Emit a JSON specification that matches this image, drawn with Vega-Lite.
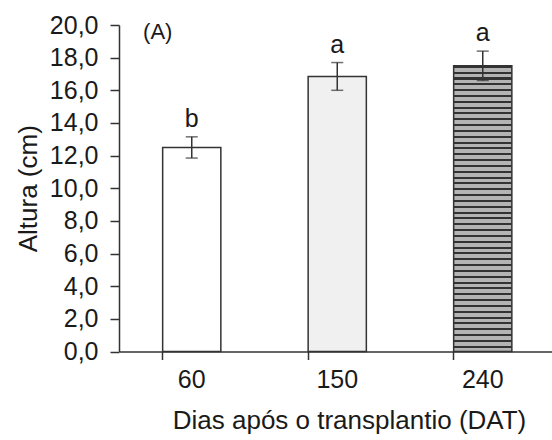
{
  "$schema": "https://vega.github.io/schema/vega-lite/v6.json",
  "autosize": {"type": "none"},
  "padding": {"left": 119, "top": 25, "right": 0, "bottom": 88.5},
  "width": 433,
  "height": 326.5,
  "background": "white",
  "config": {
    "view": {"stroke": null},
    "font": "Liberation Sans",
    "axis": {"domainColor": "#333333", "tickColor": "#333333", "domainWidth": 1.5, "tickWidth": 1.5, "labelColor": "#1a1a1a", "titleColor": "#1a1a1a", "labelFont": "Liberation Sans", "titleFont": "Liberation Sans", "titleFontWeight": "normal", "grid": false, "labelOverlap": false},
    "axisY": {"values": [0, 2, 4, 6, 8, 10, 12, 14, 16, 18, 20], "tickCount": 20, "labelExpr": "replace(format(datum.value, '.1f'), '.', ',')", "labelFontSize": 25, "titleFontSize": 26, "tickSize": 9, "labelPadding": 12, "titlePadding": 8, "labelOverlap": false}
  },
  "data": {
    "values": [
      {"dias": "60", "altura": 12.5, "erro": 0.65, "letra": "b"},
      {"dias": "150", "altura": 16.85, "erro": 0.85, "letra": "a"},
      {"dias": "240", "altura": 17.5, "erro": 0.9, "letra": "a"}
    ]
  },
  "transform": [
    {"calculate": "datum.altura - datum.erro", "as": "baixo"},
    {"calculate": "datum.altura + datum.erro", "as": "alto"}
  ],
  "encoding": {
    "x": {
      "field": "dias", "type": "nominal", "sort": ["60", "150", "240"],
      "scale": {"range": [0, 436.5], "paddingInner": 0.6, "paddingOuter": 0.3},
      "axis": {"title": "Dias após o transplantio (DAT)", "labelAngle": 0, "labelFontSize": 25, "titleFontSize": 26, "tickSize": 8, "labelPadding": 8, "titlePadding": 15, "titleX": 230, "bandPosition": 0}
    }
  },
  "layer": [
    {
      "mark": {"type": "bar", "stroke": "#333333", "strokeWidth": 1.5},
      "encoding": {
        "y": {
          "field": "altura", "type": "quantitative",
          "scale": {"domain": [0, 20], "nice": false},
          "axis": {"title": "Altura (cm)", "values": [0, 2, 4, 6, 8, 10, 12, 14, 16, 18, 20], "tickCount": 20}
        },
        "fill": {
          "condition": [
            {"test": "datum.dias === '240'", "value": {"gradient": "linear", "x1": 0, "y1": 0, "x2": 0, "y2": 1, "stops": [
              {"offset": 0, "color": "#333333"}, {"offset": 0.0071, "color": "#333333"}, {"offset": 0.0071, "color": "#b4b4b4"}, {"offset": 0.0204, "color": "#b4b4b4"},
              {"offset": 0.0204, "color": "#333333"}, {"offset": 0.0276, "color": "#333333"}, {"offset": 0.0276, "color": "#b4b4b4"}, {"offset": 0.0408, "color": "#b4b4b4"},
              {"offset": 0.0408, "color": "#333333"}, {"offset": 0.0480, "color": "#333333"}, {"offset": 0.0480, "color": "#b4b4b4"}, {"offset": 0.0612, "color": "#b4b4b4"},
              {"offset": 0.0612, "color": "#333333"}, {"offset": 0.0684, "color": "#333333"}, {"offset": 0.0684, "color": "#b4b4b4"}, {"offset": 0.0816, "color": "#b4b4b4"},
              {"offset": 0.0816, "color": "#333333"}, {"offset": 0.0888, "color": "#333333"}, {"offset": 0.0888, "color": "#b4b4b4"}, {"offset": 0.1020, "color": "#b4b4b4"},
              {"offset": 0.1020, "color": "#333333"}, {"offset": 0.1092, "color": "#333333"}, {"offset": 0.1092, "color": "#b4b4b4"}, {"offset": 0.1224, "color": "#b4b4b4"},
              {"offset": 0.1224, "color": "#333333"}, {"offset": 0.1296, "color": "#333333"}, {"offset": 0.1296, "color": "#b4b4b4"}, {"offset": 0.1429, "color": "#b4b4b4"},
              {"offset": 0.1429, "color": "#333333"}, {"offset": 0.1500, "color": "#333333"}, {"offset": 0.1500, "color": "#b4b4b4"}, {"offset": 0.1633, "color": "#b4b4b4"},
              {"offset": 0.1633, "color": "#333333"}, {"offset": 0.1704, "color": "#333333"}, {"offset": 0.1704, "color": "#b4b4b4"}, {"offset": 0.1837, "color": "#b4b4b4"},
              {"offset": 0.1837, "color": "#333333"}, {"offset": 0.1908, "color": "#333333"}, {"offset": 0.1908, "color": "#b4b4b4"}, {"offset": 0.2041, "color": "#b4b4b4"},
              {"offset": 0.2041, "color": "#333333"}, {"offset": 0.2112, "color": "#333333"}, {"offset": 0.2112, "color": "#b4b4b4"}, {"offset": 0.2245, "color": "#b4b4b4"},
              {"offset": 0.2245, "color": "#333333"}, {"offset": 0.2316, "color": "#333333"}, {"offset": 0.2316, "color": "#b4b4b4"}, {"offset": 0.2449, "color": "#b4b4b4"},
              {"offset": 0.2449, "color": "#333333"}, {"offset": 0.2520, "color": "#333333"}, {"offset": 0.2520, "color": "#b4b4b4"}, {"offset": 0.2653, "color": "#b4b4b4"},
              {"offset": 0.2653, "color": "#333333"}, {"offset": 0.2724, "color": "#333333"}, {"offset": 0.2724, "color": "#b4b4b4"}, {"offset": 0.2857, "color": "#b4b4b4"},
              {"offset": 0.2857, "color": "#333333"}, {"offset": 0.2929, "color": "#333333"}, {"offset": 0.2929, "color": "#b4b4b4"}, {"offset": 0.3061, "color": "#b4b4b4"},
              {"offset": 0.3061, "color": "#333333"}, {"offset": 0.3133, "color": "#333333"}, {"offset": 0.3133, "color": "#b4b4b4"}, {"offset": 0.3265, "color": "#b4b4b4"},
              {"offset": 0.3265, "color": "#333333"}, {"offset": 0.3337, "color": "#333333"}, {"offset": 0.3337, "color": "#b4b4b4"}, {"offset": 0.3469, "color": "#b4b4b4"},
              {"offset": 0.3469, "color": "#333333"}, {"offset": 0.3541, "color": "#333333"}, {"offset": 0.3541, "color": "#b4b4b4"}, {"offset": 0.3673, "color": "#b4b4b4"},
              {"offset": 0.3673, "color": "#333333"}, {"offset": 0.3745, "color": "#333333"}, {"offset": 0.3745, "color": "#b4b4b4"}, {"offset": 0.3878, "color": "#b4b4b4"},
              {"offset": 0.3878, "color": "#333333"}, {"offset": 0.3949, "color": "#333333"}, {"offset": 0.3949, "color": "#b4b4b4"}, {"offset": 0.4082, "color": "#b4b4b4"},
              {"offset": 0.4082, "color": "#333333"}, {"offset": 0.4153, "color": "#333333"}, {"offset": 0.4153, "color": "#b4b4b4"}, {"offset": 0.4286, "color": "#b4b4b4"},
              {"offset": 0.4286, "color": "#333333"}, {"offset": 0.4357, "color": "#333333"}, {"offset": 0.4357, "color": "#b4b4b4"}, {"offset": 0.4490, "color": "#b4b4b4"},
              {"offset": 0.4490, "color": "#333333"}, {"offset": 0.4561, "color": "#333333"}, {"offset": 0.4561, "color": "#b4b4b4"}, {"offset": 0.4694, "color": "#b4b4b4"},
              {"offset": 0.4694, "color": "#333333"}, {"offset": 0.4765, "color": "#333333"}, {"offset": 0.4765, "color": "#b4b4b4"}, {"offset": 0.4898, "color": "#b4b4b4"},
              {"offset": 0.4898, "color": "#333333"}, {"offset": 0.4969, "color": "#333333"}, {"offset": 0.4969, "color": "#b4b4b4"}, {"offset": 0.5102, "color": "#b4b4b4"},
              {"offset": 0.5102, "color": "#333333"}, {"offset": 0.5173, "color": "#333333"}, {"offset": 0.5173, "color": "#b4b4b4"}, {"offset": 0.5306, "color": "#b4b4b4"},
              {"offset": 0.5306, "color": "#333333"}, {"offset": 0.5378, "color": "#333333"}, {"offset": 0.5378, "color": "#b4b4b4"}, {"offset": 0.5510, "color": "#b4b4b4"},
              {"offset": 0.5510, "color": "#333333"}, {"offset": 0.5582, "color": "#333333"}, {"offset": 0.5582, "color": "#b4b4b4"}, {"offset": 0.5714, "color": "#b4b4b4"},
              {"offset": 0.5714, "color": "#333333"}, {"offset": 0.5786, "color": "#333333"}, {"offset": 0.5786, "color": "#b4b4b4"}, {"offset": 0.5918, "color": "#b4b4b4"},
              {"offset": 0.5918, "color": "#333333"}, {"offset": 0.5990, "color": "#333333"}, {"offset": 0.5990, "color": "#b4b4b4"}, {"offset": 0.6122, "color": "#b4b4b4"},
              {"offset": 0.6122, "color": "#333333"}, {"offset": 0.6194, "color": "#333333"}, {"offset": 0.6194, "color": "#b4b4b4"}, {"offset": 0.6327, "color": "#b4b4b4"},
              {"offset": 0.6327, "color": "#333333"}, {"offset": 0.6398, "color": "#333333"}, {"offset": 0.6398, "color": "#b4b4b4"}, {"offset": 0.6531, "color": "#b4b4b4"},
              {"offset": 0.6531, "color": "#333333"}, {"offset": 0.6602, "color": "#333333"}, {"offset": 0.6602, "color": "#b4b4b4"}, {"offset": 0.6735, "color": "#b4b4b4"},
              {"offset": 0.6735, "color": "#333333"}, {"offset": 0.6806, "color": "#333333"}, {"offset": 0.6806, "color": "#b4b4b4"}, {"offset": 0.6939, "color": "#b4b4b4"},
              {"offset": 0.6939, "color": "#333333"}, {"offset": 0.7010, "color": "#333333"}, {"offset": 0.7010, "color": "#b4b4b4"}, {"offset": 0.7143, "color": "#b4b4b4"},
              {"offset": 0.7143, "color": "#333333"}, {"offset": 0.7214, "color": "#333333"}, {"offset": 0.7214, "color": "#b4b4b4"}, {"offset": 0.7347, "color": "#b4b4b4"},
              {"offset": 0.7347, "color": "#333333"}, {"offset": 0.7418, "color": "#333333"}, {"offset": 0.7418, "color": "#b4b4b4"}, {"offset": 0.7551, "color": "#b4b4b4"},
              {"offset": 0.7551, "color": "#333333"}, {"offset": 0.7622, "color": "#333333"}, {"offset": 0.7622, "color": "#b4b4b4"}, {"offset": 0.7755, "color": "#b4b4b4"},
              {"offset": 0.7755, "color": "#333333"}, {"offset": 0.7827, "color": "#333333"}, {"offset": 0.7827, "color": "#b4b4b4"}, {"offset": 0.7959, "color": "#b4b4b4"},
              {"offset": 0.7959, "color": "#333333"}, {"offset": 0.8031, "color": "#333333"}, {"offset": 0.8031, "color": "#b4b4b4"}, {"offset": 0.8163, "color": "#b4b4b4"},
              {"offset": 0.8163, "color": "#333333"}, {"offset": 0.8235, "color": "#333333"}, {"offset": 0.8235, "color": "#b4b4b4"}, {"offset": 0.8367, "color": "#b4b4b4"},
              {"offset": 0.8367, "color": "#333333"}, {"offset": 0.8439, "color": "#333333"}, {"offset": 0.8439, "color": "#b4b4b4"}, {"offset": 0.8571, "color": "#b4b4b4"},
              {"offset": 0.8571, "color": "#333333"}, {"offset": 0.8643, "color": "#333333"}, {"offset": 0.8643, "color": "#b4b4b4"}, {"offset": 0.8776, "color": "#b4b4b4"},
              {"offset": 0.8776, "color": "#333333"}, {"offset": 0.8847, "color": "#333333"}, {"offset": 0.8847, "color": "#b4b4b4"}, {"offset": 0.8980, "color": "#b4b4b4"},
              {"offset": 0.8980, "color": "#333333"}, {"offset": 0.9051, "color": "#333333"}, {"offset": 0.9051, "color": "#b4b4b4"}, {"offset": 0.9184, "color": "#b4b4b4"},
              {"offset": 0.9184, "color": "#333333"}, {"offset": 0.9255, "color": "#333333"}, {"offset": 0.9255, "color": "#b4b4b4"}, {"offset": 0.9388, "color": "#b4b4b4"},
              {"offset": 0.9388, "color": "#333333"}, {"offset": 0.9459, "color": "#333333"}, {"offset": 0.9459, "color": "#b4b4b4"}, {"offset": 0.9592, "color": "#b4b4b4"},
              {"offset": 0.9592, "color": "#333333"}, {"offset": 0.9663, "color": "#333333"}, {"offset": 0.9663, "color": "#b4b4b4"}, {"offset": 0.9796, "color": "#b4b4b4"},
              {"offset": 0.9796, "color": "#333333"}, {"offset": 0.9867, "color": "#333333"}, {"offset": 0.9867, "color": "#b4b4b4"}, {"offset": 1, "color": "#b4b4b4"}
            ]}},
            {"test": "datum.dias === '150'", "value": "#f0f0f0"}
          ],
          "value": "#ffffff"
        }
      }
    },
    {
      "mark": {"type": "rule", "color": "#333333", "strokeWidth": 1.5},
      "encoding": {"y": {"field": "baixo", "type": "quantitative", "axis": {"title": "Altura (cm)", "values": [0, 2, 4, 6, 8, 10, 12, 14, 16, 18, 20], "tickCount": 20}}, "y2": {"field": "alto"}}
    },
    {
      "mark": {"type": "tick", "color": "#333333", "thickness": 1.5, "size": 12},
      "encoding": {"y": {"field": "baixo", "type": "quantitative", "axis": {"title": "Altura (cm)", "values": [0, 2, 4, 6, 8, 10, 12, 14, 16, 18, 20], "tickCount": 20}}}
    },
    {
      "mark": {"type": "tick", "color": "#333333", "thickness": 1.5, "size": 12},
      "encoding": {"y": {"field": "alto", "type": "quantitative", "axis": {"title": "Altura (cm)", "values": [0, 2, 4, 6, 8, 10, 12, 14, 16, 18, 20], "tickCount": 20}}}
    },
    {
      "mark": {"type": "text", "fontSize": 25, "baseline": "alphabetic", "dy": -10, "color": "#1a1a1a"},
      "encoding": {"y": {"field": "alto", "type": "quantitative", "axis": {"title": "Altura (cm)", "values": [0, 2, 4, 6, 8, 10, 12, 14, 16, 18, 20], "tickCount": 20}}, "text": {"field": "letra"}}
    },
    {
      "data": {"values": [{"painel": "(A)"}]},
      "mark": {"type": "text", "fontSize": 22, "baseline": "middle", "align": "center", "dx": -34, "dy": 7, "color": "#1a1a1a"},
      "encoding": {"x": {"datum": "60"}, "y": {"datum": 20, "axis": {"title": "Altura (cm)", "values": [0, 2, 4, 6, 8, 10, 12, 14, 16, 18, 20], "tickCount": 20}}, "text": {"field": "painel"}}
    }
  ]
}
